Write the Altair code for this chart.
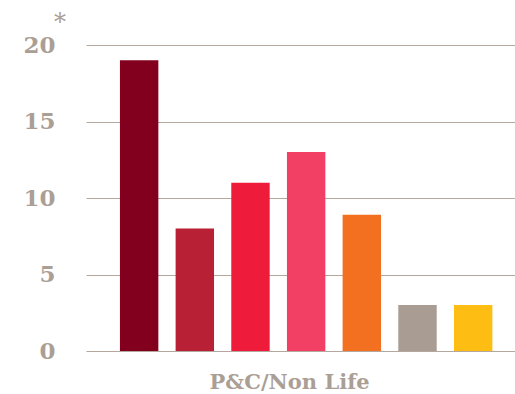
import altair as alt
import pandas as pd

# Bar series for the P&C / Non Life group
categories = ["1", "2", "3", "4", "5", "6", "7"]
values = [19, 8, 11, 13, 8.9, 3, 3]
colors = ["#82001e", "#b82135", "#ee1c3a", "#f24065", "#f37021", "#a89c93", "#fdbd13"]
y_ticks = [0, 5, 10, 15, 20]
group_label = "P&C/Non Life"
footnote_mark = "*"

grey = "#aa9e95"
font = "DejaVu Serif"

df = pd.DataFrame({"cat": categories, "value": values})

bars = alt.Chart(df).mark_bar().encode(
    x=alt.X(
        "cat:N",
        sort=categories,
        scale=alt.Scale(paddingInner=0.31, paddingOuter=0.508, align=0.6),
        axis=alt.Axis(
            labels=False, ticks=False, domain=False, title=group_label,
            titleFont=font, titleFontSize=21, titleFontWeight="bold",
            titleColor=grey, titleX=203, titleY=37, titleAlign="center",
            titleBaseline="alphabetic",
        ),
    ),
    y=alt.Y(
        "value:Q",
        scale=alt.Scale(domain=[0, 20], nice=False),
        axis=alt.Axis(
            values=y_ticks, title=None, ticks=False, domain=False,
            labelFont=font, labelFontSize=23, labelFontWeight="bold",
            labelColor=grey, labelPadding=31, gridColor="#b3a79e",
            gridWidth=1.2,
        ),
    ),
    color=alt.Color(
        "cat:N", scale=alt.Scale(domain=categories, range=colors), legend=None
    ),
)

star = alt.Chart(pd.DataFrame({"t": [footnote_mark]})).mark_text(
    font=font, fontSize=24, color=grey,
    align="center", baseline="middle",
).encode(text="t:N", x=alt.value(-26), y=alt.value(-22))

chart = (
    alt.layer(bars, star)
    .properties(
        width=429, height=306,
        autosize=alt.AutoSizeParams(type="none"),
        padding={"left": 86, "top": 45, "right": 0, "bottom": 43},
    )
    .configure_view(stroke=None)
)

chart.save("out.html", embed_options={"renderer": "svg", "actions": False})
